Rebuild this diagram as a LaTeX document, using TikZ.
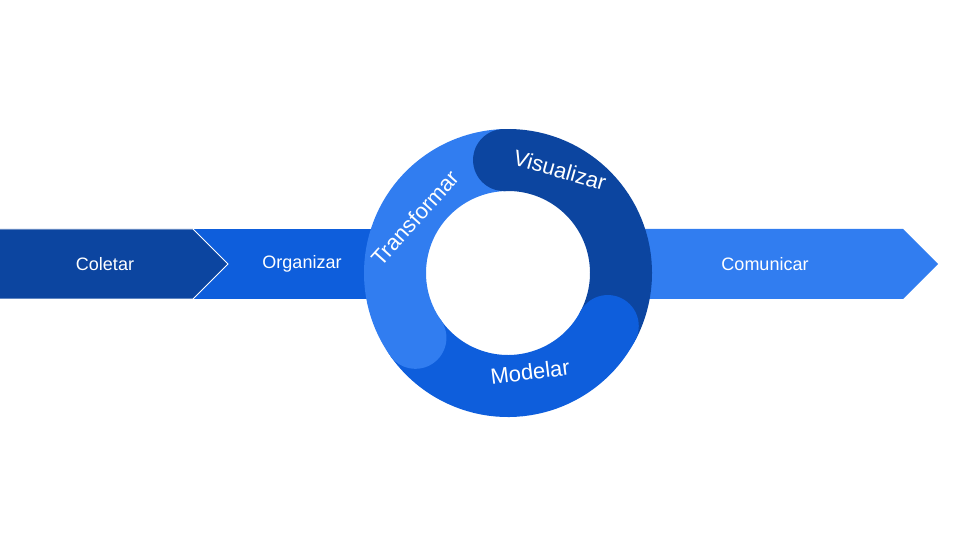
\documentclass[tikz,border=0pt]{standalone}
\usepackage{fontspec}
\setmainfont{Liberation Sans}
\definecolor{darkblue}{HTML}{0C45A0}
\definecolor{midblue}{HTML}{0E5EDC}
\definecolor{lightblue}{HTML}{317DF0}
\tikzset{
    bandlabel/.style={text=white, font=\fontsize{18}{20}\selectfont},
    ringlabel/.style={text=white, font=\fontsize{22}{24}\selectfont},
    ringarc/.style={line width=62pt, line cap=butt},
}
\begin{document}
\begin{tikzpicture}[x=1pt, y=1pt]
    \useasboundingbox (0, 0) rectangle (960, 540);
    \coordinate (c) at (508, 267);

    % band
    \fill[midblue] (193, 241) rectangle (420, 311);
    \fill[lightblue] (600, 241) -- (903, 241) -- (938, 276) -- (903, 311) -- (600, 311) -- cycle;
    \filldraw[darkblue, draw=white, line width=0.8pt] (-1, 241) -- (193, 241) -- (228, 276) -- (193, 311) -- (-1, 311) -- cycle;

    % ring
    \draw[ringarc, lightblue] (c) ++(215:113) arc (215:92:113);
    \draw[ringarc, darkblue] (c) ++(92:113) arc (92:-28:113);
    \draw[ringarc, midblue] (c) ++(-28:113) arc (-28:-145:113);
    \fill[lightblue] (c) ++(215:113) circle (31);
    \fill[darkblue] (c) ++(92:113) circle (31);
    \fill[midblue] (c) ++(-28:113) circle (31);

    \node[bandlabel] (coletar) at (105, 276) {Coletar};
    \node[bandlabel] (organizar) at (302, 276) {Organizar};
    \node[bandlabel] (comunicar) at (765, 276) {Comunicar};
    \node[ringlabel, rotate=48] (transformar) at (415, 322) {Transformar};
    \node[ringlabel, rotate=-16] (visualizar) at (560, 370) {Visualizar};
    \node[ringlabel, rotate=7] (modelar) at (530, 168) {Modelar};
\end{tikzpicture}
\end{document}
